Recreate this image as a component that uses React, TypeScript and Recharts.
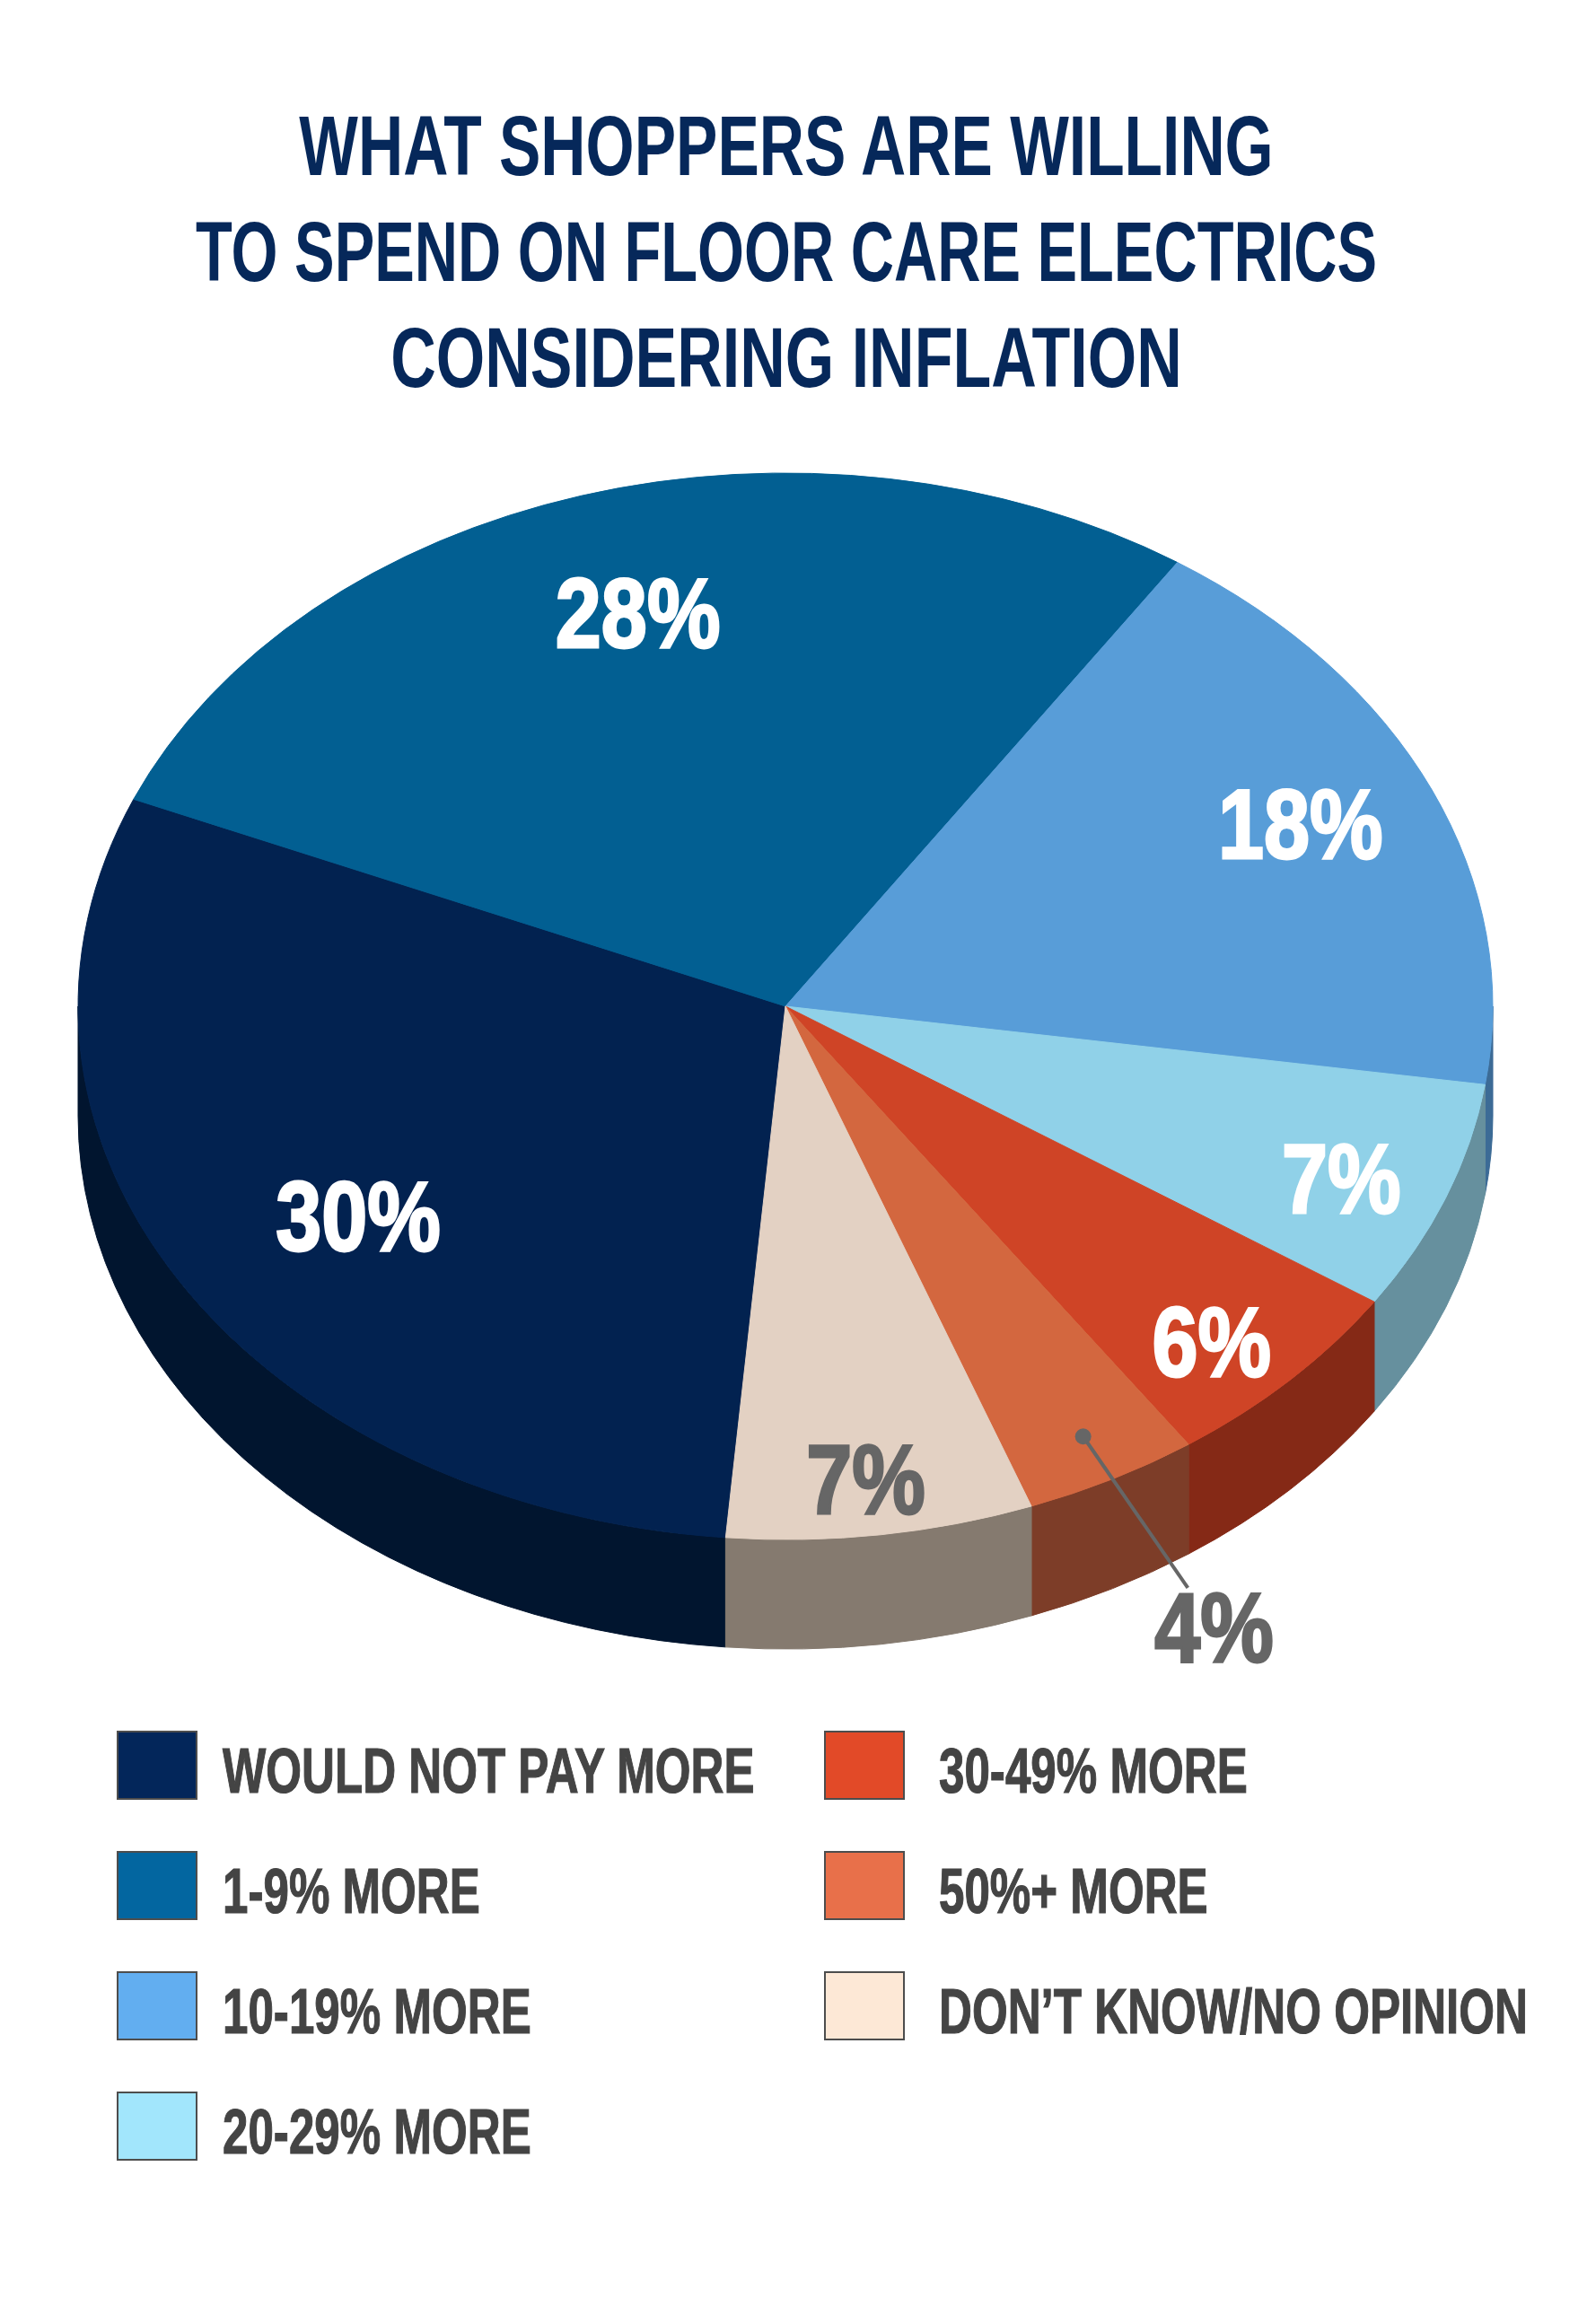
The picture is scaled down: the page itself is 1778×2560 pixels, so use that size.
import React from 'react';
import { PieChart, Pie, Legend } from 'recharts';

// ---------- data ----------
const categories = [
  'WOULD NOT PAY MORE',
  '1-9% MORE',
  '10-19% MORE',
  '20-29% MORE',
  '30-49% MORE',
  '50%+ MORE',
  'DON\u2019T KNOW/NO OPINION',
];
const shares = [30, 28, 18, 7, 6, 4, 7];
const titleLines = [
  'WHAT SHOPPERS ARE WILLING',
  'TO SPEND ON FLOOR CARE ELECTRICS',
  'CONSIDERING INFLATION',
];

// ---------- palettes ----------
const topColors = ['#022250', '#025f92', '#589dd8', '#90d1e8', '#cf4426', '#d3673f', '#e3d1c3'];
const sideColors = ['#01152f', '#023f62', '#3c6b96', '#66909e', '#852916', '#7d3d28', '#857a6f'];
const swatchColors = ['#03265a', '#0366a0', '#62aef0', '#a2e6fc', '#e24a28', '#e8704a', '#fde8d6'];

const data = categories.map((name, i) => ({ name, value: shares[i] }));

// ---------- layout ----------
const W = 1778;
const H = 2560;
const CX = 875;
const CY = 1121;
const RX = 788;
const RATIO = 594 / 788;
const DEPTH = 122;
const RAD = Math.PI / 180;
const FONT = "'Liberation Sans', Arial, 'DejaVu Sans', sans-serif";

let shapeUsed = false;

function pt(cx: number, cy: number, rx: number, ry: number, a: number): [number, number] {
  return [cx + rx * Math.cos(a * RAD), cy - ry * Math.sin(a * RAD)];
}

function lookupIndex(props: any): number {
  const n = props.name ?? props.payload?.name;
  const i = categories.indexOf(n);
  return i >= 0 ? i : (props.index ?? 0);
}

function sliceElements(props: any, key: string) {
  const { cx, cy, outerRadius, startAngle, endAngle } = props;
  const idx = lookupIndex(props);
  const rx = outerRadius;
  const ry = outerRadius * RATIO;
  const s = Math.max(startAngle, endAngle);
  const e = Math.min(startAngle, endAngle);
  const sides: React.ReactNode[] = [];
  for (let k = -2; k <= 1; k++) {
    const a1 = Math.max(e, -180 + 360 * k);
    const a2 = Math.min(s, 360 * k);
    if (a2 - a1 > 0.01) {
      const p1 = pt(cx, cy, rx, ry, a1);
      const p2 = pt(cx, cy, rx, ry, a2);
      const d = `M${p1[0]},${p1[1]} A${rx},${ry} 0 0 0 ${p2[0]},${p2[1]} L${p2[0]},${p2[1] + DEPTH} A${rx},${ry} 0 0 1 ${p1[0]},${p1[1] + DEPTH} Z`;
      sides.push(
        <path key={`side-${k}`} d={d} fill={sideColors[idx]} stroke={sideColors[idx]} strokeWidth={1} />
      );
    }
  }
  const ps = pt(cx, cy, rx, ry, s);
  const pe = pt(cx, cy, rx, ry, e);
  const large = s - e > 180 ? 1 : 0;
  const top = `M${cx},${cy} L${ps[0]},${ps[1]} A${rx},${ry} 0 ${large} 1 ${pe[0]},${pe[1]} Z`;
  return (
    <g key={key}>
      {sides}
      <path d={top} fill={topColors[idx]} stroke={topColors[idx]} strokeWidth={1} />
    </g>
  );
}

function renderShape(props: any) {
  shapeUsed = true;
  return sliceElements(props, 'shape');
}

function isLight(hex: string) {
  const r = parseInt(hex.slice(1, 3), 16);
  const g = parseInt(hex.slice(3, 5), 16);
  const b = parseInt(hex.slice(5, 7), 16);
  return (0.299 * r + 0.587 * g + 0.114 * b) / 255 > 0.8;
}

// width of a "NN%" label in a condensed bold face
function labelLength(txt: string, fs: number) {
  let w = 0;
  for (const ch of txt) w += ch === '%' ? 0.74 : 0.465;
  return w * fs;
}

function renderLabel(props: any) {
  const { cx, cy, outerRadius, value } = props;
  const idx = lookupIndex(props);
  const s = Math.max(props.startAngle, props.endAngle);
  const e = Math.min(props.startAngle, props.endAngle);
  const mid = props.midAngle ?? (s + e) / 2;
  const rx = outerRadius;
  const ry = outerRadius * RATIO;
  const cos = Math.cos(mid * RAD);
  const sin = Math.sin(mid * RAD);
  const face = shapeUsed ? null : sliceElements(props, 'face');
  const fs = 110;
  const txt = `${value}%`;
  const tl = labelLength(txt, fs);
  if (value < 5) {
    const dot = [cx + 0.91 * rx * cos, cy - 0.91 * ry * sin];
    const end = [cx + 1.23 * rx * cos, cy - 1.23 * ry * sin];
    const lab = [cx + 1.31 * rx * cos, cy - 1.31 * ry * sin];
    return (
      <g key={`lbl-${idx}`}>
        {face}
        <line x1={dot[0]} y1={dot[1]} x2={end[0]} y2={end[1]} stroke="#666666" strokeWidth={4} />
        <circle cx={dot[0]} cy={dot[1]} r={9} fill="#666666" />
        <text x={lab[0]} y={lab[1] + fs * 0.36} textAnchor="middle" fontSize={fs} fontWeight={700}
          fontFamily={FONT} fill="#666666" stroke="#666666" strokeWidth={3}
          textLength={tl} lengthAdjust="spacingAndGlyphs">{txt}</text>
      </g>
    );
  }
  // place the label near the centroid of the slice
  const theta = Math.abs(s - e) * RAD;
  const c = (4 * Math.sin(theta / 2)) / (3 * theta);
  const k = 0.72 + 1.53 * (c - 0.575);
  const x = cx + (k - 0.01) * rx * cos;
  const y = cy - (k + 0.04) * ry * sin;
  const col = isLight(topColors[idx]) ? '#666666' : '#ffffff';
  return (
    <g key={`lbl-${idx}`}>
      {face}
      <text x={x} y={y + fs * 0.36} textAnchor="middle" fontSize={fs} fontWeight={700}
        fontFamily={FONT} fill={col} stroke={col} strokeWidth={3}
        textLength={tl} lengthAdjust="spacingAndGlyphs">{txt}</text>
    </g>
  );
}

const LEGEND_TOP = 1890;

function renderLegend(props: any) {
  const payload = props?.payload;
  const names: string[] =
    payload && payload.length === categories.length ? payload.map((p: any) => p.value) : categories;
  return (
    <svg width={W} height={560} style={{ display: 'block' }}>
      {names.map((n, i) => {
        const idx = categories.indexOf(n) >= 0 ? categories.indexOf(n) : i;
        const col = idx < 4 ? 0 : 1;
        const row = idx < 4 ? idx : idx - 4;
        const sx = col ? 919 : 131;
        const tx = col ? 1046 : 248;
        const top = 1929 - LEGEND_TOP + row * 134;
        return (
          <g key={n}>
            <rect x={sx} y={top} width={88} height={75} fill={swatchColors[idx]} stroke="#4d4d4d" strokeWidth={2} />
            <text transform={`translate(${tx} ${top + 68}) scale(0.72 1)`} fontSize={71} fontWeight={700}
              fontFamily={FONT} fill="#444444" stroke="#444444" strokeWidth={1.2}>{n}</text>
          </g>
        );
      })}
    </svg>
  );
}

const titleScales = [0.732, 0.703, 0.737];

export default function App() {
  return (
    <div style={{ position: 'relative', width: W, height: H, background: '#ffffff' }}>
      <style>{'body{margin:0;background:#fff;}'}</style>
      <PieChart width={W} height={H} margin={{ top: 0, right: 0, bottom: 0, left: 0 }}>
        <Pie
          data={data}
          dataKey="value"
          nameKey="name"
          cx={CX}
          cy={CY}
          innerRadius={0}
          outerRadius={RX}
          startAngle={-94.85}
          endAngle={-454.85}
          fill="none"
          stroke="none"
          isAnimationActive={false}
          shape={renderShape as any}
          label={renderLabel}
          labelLine={false}
        />
        <Legend
          content={renderLegend}
          verticalAlign="bottom"
          wrapperStyle={{ position: 'absolute', left: 0, top: LEGEND_TOP, width: W, height: 560 }}
        />
      </PieChart>
      <svg width={W} height={480} style={{ position: 'absolute', left: 0, top: 0, pointerEvents: 'none' }}>
        {titleLines.map((t, i) => (
          <text key={t} transform={`translate(876 ${195 + i * 118}) scale(${titleScales[i]} 1)`}
            textAnchor="middle" fontSize={95} fontWeight={700} fontFamily={FONT} fill="#06285a">
            {t}
          </text>
        ))}
      </svg>
    </div>
  );
}
